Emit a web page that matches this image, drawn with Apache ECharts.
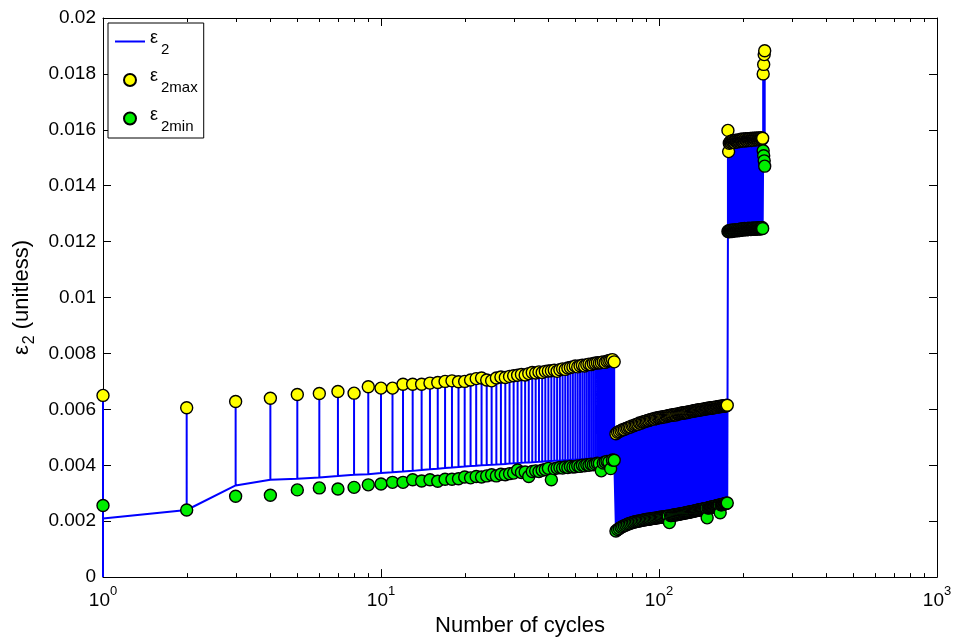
<!DOCTYPE html>
<html>
<head>
<meta charset="utf-8">
<script src="https://cdn.jsdelivr.net/npm/echarts@6/dist/echarts.min.js"></script>
<style>
html,body{margin:0;padding:0;background:#fff;}
#c{width:955px;height:642px;}
</style>
</head>
<body>
<div id="c"></div>
<script>
// ---- DATA (cycle number = array index + 1) ----
const eps2Start = 0;  // strain at the very start of the test
const eps2Max = [
 0.00650,0.00606,0.00628,0.00640,0.00653,0.00657,0.00664,0.00658,0.00681,0.00676,
 0.00676,0.00690,0.00690,0.00690,0.00694,0.00696,0.00700,0.00702,0.00699,0.00700,
 0.00705,0.00710,0.00712,0.00705,0.00702,0.00712,0.00716,0.00714,0.00718,0.00720,
 0.00722,0.00725,0.00723,0.00728,0.00732,0.00730,0.00734,0.00732,0.00736,0.00737,
 0.00738,0.00740,0.00736,0.00742,0.00745,0.00743,0.00748,0.00750,0.00752,0.00755,
 0.00752,0.00756,0.00758,0.00755,0.00760,0.00762,0.00760,0.00764,0.00765,0.00767,
 0.00766,0.00768,0.00770,0.00768,0.00772,0.00774,0.00776,0.00778,0.00770,0.00513,
 0.00518,0.00521,0.00524,0.00527,0.00528,0.00532,0.00533,0.00536,0.00537,0.00541,
 0.00541,0.00544,0.00546,0.00547,0.00551,0.00550,0.00554,0.00555,0.00557,0.00558,
 0.00560,0.00560,0.00563,0.00564,0.00566,0.00565,0.00568,0.00567,0.00570,0.00570,
 0.00572,0.00571,0.00573,0.00574,0.00573,0.00576,0.00575,0.00577,0.00578,0.00578,
 0.00580,0.00579,0.00581,0.00582,0.00580,0.00583,0.00584,0.00583,0.00585,0.00586,
 0.00586,0.00587,0.00588,0.00587,0.00589,0.00590,0.00589,0.00591,0.00592,0.00591,
 0.00593,0.00594,0.00593,0.00595,0.00596,0.00595,0.00597,0.00598,0.00597,0.00599,
 0.00598,0.00600,0.00599,0.00601,0.00601,0.00600,0.00602,0.00603,0.00602,0.00604,
 0.00603,0.00605,0.00604,0.00605,0.00606,0.00605,0.00607,0.00606,0.00608,0.00607,
 0.00608,0.00609,0.00608,0.00610,0.00609,0.00610,0.00611,0.00610,0.00612,0.00611,
 0.00612,0.00613,0.00612,0.00614,0.00613,0.00615,0.01598,0.01522,0.01552,0.01556,
 0.01558,0.01555,0.01560,0.01557,0.01562,0.01558,0.01555,0.01560,0.01563,0.01559,
 0.01556,0.01560,0.01564,0.01561,0.01558,0.01562,0.01566,0.01563,0.01560,0.01564,
 0.01567,0.01563,0.01560,0.01565,0.01568,0.01564,0.01561,0.01565,0.01568,0.01566,
 0.01562,0.01566,0.01569,0.01565,0.01562,0.01566,0.01570,0.01566,0.01563,0.01567,
 0.01570,0.01567,0.01564,0.01568,0.01571,0.01567,0.01564,0.01568,0.01571,0.01568,
 0.01565,0.01569,0.01572,0.01568,0.01566,0.01570,0.01800,0.01834,0.01869,0.01883
];
const eps2Min = [
 0.00256,0.00240,0.00289,0.00293,0.00312,0.00319,0.00315,0.00321,0.00330,0.00333,
 0.00339,0.00339,0.00348,0.00344,0.00348,0.00343,0.00350,0.00350,0.00352,0.00358,
 0.00355,0.00360,0.00358,0.00362,0.00366,0.00362,0.00368,0.00366,0.00370,0.00372,
 0.00383,0.00374,0.00376,0.00360,0.00378,0.00380,0.00378,0.00382,0.00385,0.00389,
 0.00348,0.00388,0.00390,0.00392,0.00390,0.00394,0.00392,0.00396,0.00394,0.00395,
 0.00398,0.00396,0.00400,0.00398,0.00402,0.00400,0.00404,0.00402,0.00405,0.00407,
 0.00406,0.00380,0.00408,0.00412,0.00414,0.00412,0.00388,0.00419,0.00418,0.00165,
 0.00170,0.00174,0.00178,0.00181,0.00184,0.00186,0.00189,0.00191,0.00193,0.00195,
 0.00196,0.00198,0.00199,0.00200,0.00201,0.00202,0.00203,0.00204,0.00205,0.00206,
 0.00207,0.00207,0.00208,0.00209,0.00210,0.00210,0.00211,0.00212,0.00212,0.00213,
 0.00214,0.00214,0.00215,0.00216,0.00216,0.00217,0.00218,0.00218,0.00195,0.00220,
 0.00220,0.00221,0.00222,0.00222,0.00223,0.00224,0.00224,0.00225,0.00226,0.00227,
 0.00227,0.00228,0.00229,0.00229,0.00230,0.00231,0.00231,0.00232,0.00233,0.00234,
 0.00234,0.00235,0.00236,0.00236,0.00237,0.00238,0.00238,0.00239,0.00240,0.00241,
 0.00241,0.00242,0.00243,0.00243,0.00244,0.00245,0.00245,0.00246,0.00212,0.00247,
 0.00248,0.00249,0.00249,0.00250,0.00251,0.00251,0.00252,0.00253,0.00253,0.00254,
 0.00255,0.00255,0.00256,0.00257,0.00257,0.00230,0.00259,0.00259,0.00260,0.00261,
 0.00261,0.00262,0.00263,0.00263,0.00264,0.00265,0.01236,0.01239,0.01235,0.01240,
 0.01237,0.01241,0.01236,0.01239,0.01242,0.01238,0.01240,0.01243,0.01239,0.01241,
 0.01243,0.01239,0.01242,0.01244,0.01240,0.01242,0.01245,0.01241,0.01243,0.01246,
 0.01242,0.01244,0.01247,0.01243,0.01245,0.01242,0.01244,0.01247,0.01243,0.01245,
 0.01248,0.01244,0.01246,0.01243,0.01245,0.01248,0.01244,0.01246,0.01249,0.01245,
 0.01247,0.01244,0.01246,0.01249,0.01245,0.01247,0.01250,0.01246,0.01248,0.01245,
 0.01247,0.01250,0.01246,0.01248,0.01251,0.01247,0.01525,0.01507,0.01489,0.01470
];
// strain level the signal returns to between peaks (line valleys)
const eps2Valley = [
 0.00210,0.00240,0.00328,0.00348,0.00352,0.00356,0.00362,0.00366,0.00368,0.00372,
 0.00375,0.00378,0.00380,0.00383,0.00386,0.00388,0.00390,0.00392,0.00394,0.00396,
 0.00397,0.00398,0.00400,0.00401,0.00402,0.00403,0.00404,0.00405,0.00406,0.00407,
 0.00408,0.00409,0.00410,0.00410,0.00411,0.00412,0.00413,0.00413,0.00414,0.00415,
 0.00415,0.00416,0.00416,0.00417,0.00418,0.00418,0.00419,0.00420,0.00420,0.00421,
 0.00421,0.00422,0.00422,0.00423,0.00423,0.00424,0.00424,0.00425,0.00425,0.00426,
 0.00426,0.00427,0.00427,0.00428,0.00428,0.00429,0.00429,0.00430,0.00430,0.00168,
 0.00172,0.00176,0.00180,0.00183,0.00186,0.00188,0.00191,0.00193,0.00195,0.00197,
 0.00198,0.00200,0.00201,0.00202,0.00203,0.00204,0.00205,0.00206,0.00207,0.00208,
 0.00209,0.00209,0.00210,0.00211,0.00212,0.00212,0.00213,0.00214,0.00214,0.00215,
 0.00216,0.00216,0.00217,0.00218,0.00218,0.00219,0.00220,0.00220,0.00221,0.00222,
 0.00222,0.00223,0.00224,0.00224,0.00225,0.00226,0.00226,0.00227,0.00228,0.00229,
 0.00229,0.00230,0.00231,0.00231,0.00232,0.00233,0.00233,0.00234,0.00235,0.00236,
 0.00236,0.00237,0.00238,0.00238,0.00239,0.00240,0.00240,0.00241,0.00242,0.00243,
 0.00243,0.00244,0.00245,0.00245,0.00246,0.00247,0.00247,0.00248,0.00248,0.00249,
 0.00250,0.00251,0.00251,0.00252,0.00253,0.00253,0.00254,0.00255,0.00255,0.00256,
 0.00257,0.00257,0.00258,0.00259,0.00259,0.00260,0.00261,0.00261,0.00262,0.00263,
 0.00263,0.00264,0.00265,0.00265,0.00266,0.00267,0.01240,0.01242,0.01240,0.01242,
 0.01241,0.01243,0.01241,0.01242,0.01244,0.01242,0.01243,0.01245,0.01243,0.01244,
 0.01245,0.01243,0.01244,0.01246,0.01244,0.01245,0.01247,0.01245,0.01246,0.01247,
 0.01245,0.01246,0.01248,0.01246,0.01247,0.01245,0.01246,0.01248,0.01246,0.01247,
 0.01249,0.01247,0.01248,0.01246,0.01247,0.01249,0.01247,0.01248,0.01250,0.01248,
 0.01249,0.01247,0.01248,0.01250,0.01248,0.01249,0.01251,0.01249,0.01250,0.01248,
 0.01249,0.01251,0.01249,0.01250,0.01252,0.01250,0.01530,0.01512,0.01494,0.01476
];
const xMinorTicks = [2,3,4,5,6,7,8,9,20,30,40,50,60,70,80,90,200,300,400,500,600,700,800,900];
const xRange = [1, 1000];
const yRange = [0, 0.02];
const yStep = 0.002;

// ---- build series data ----
const lineData = [[1, eps2Start]];
const maxData = [], minData = [];
eps2Max.forEach((m, i) => {
  const n = i + 1;
  lineData.push([n, eps2Valley[i]], [n, m], [n, eps2Valley[i]]);
  maxData.push([n, m]);
  minData.push([n, eps2Min[i]]);
});

const FONT = '"Liberation Sans", Arial, Helvetica, sans-serif';
const chart = echarts.init(document.getElementById('c'), null, {renderer: 'canvas'});

// rich-text helpers: every token top-aligned, vertical shift done with top padding
const tok = (size, padTop, padLeft) => ({fontSize: size, padding: [padTop, 0, 0, padLeft || 0], verticalAlign: 'top', fontFamily: FONT, color: '#000'});
const supRich = {b: tok(19, 6), p: tok(13, 0)};
const legendRich = {e: tok(18, 3), s: tok(15, 16, 3)};
const yNameRich = {e: tok(22, 0), s: tok(16, 11, 1), t: tok(22, 0)};
const legendNames = {e2: '{e|ε}{s|2}', e2max: '{e|ε}{s|2max}', e2min: '{e|ε}{s|2min}'};

const axisCommonLine = {show: true, onZero: false, lineStyle: {color: '#000', width: 1}};
const tickStyle = {show: true, inside: true, length: 8, lineStyle: {color: '#000', width: 1}};

const option = {
  animation: false,
  backgroundColor: '#fff',
  grid: {left: 103, right: 18, top: 18, bottom: 62, containLabel: false},
  legend: {
    data: [
      {name: 'e2', icon: 'path://M0,0L0,0M0,5L30,5L30,7L0,7ZM30,12L30,12'},
      {name: 'e2max'},
      {name: 'e2min'}
    ],
    orient: 'vertical', left: 108, top: 23,
    padding: [6, 6, 4, 7], itemGap: 10.5, itemWidth: 30, itemHeight: 12,
    borderColor: '#000', borderWidth: 1, backgroundColor: '#fff', borderRadius: 0,
    selectedMode: false,
    formatter: n => legendNames[n],
    textStyle: {color: '#000', fontFamily: FONT, rich: legendRich}
  },
  xAxis: [{
    type: 'log', logBase: 10, min: xRange[0], max: xRange[1], position: 'bottom',
    axisLine: axisCommonLine, axisTick: tickStyle, splitLine: {show: false},
    axisLabel: {margin: 8, formatter: v => '{b|10}{p|' + Math.round(Math.log10(v)) + '}', rich: supRich},
    name: 'Number of cycles', nameLocation: 'middle', nameGap: 33,
    nameTextStyle: {fontSize: 22, fontFamily: FONT, color: '#000'}
  }, {
    type: 'log', logBase: 10, min: xRange[0], max: xRange[1], position: 'top',
    axisLine: axisCommonLine, axisTick: tickStyle, splitLine: {show: false}, axisLabel: {show: false}
  }],
  yAxis: [{
    type: 'value', min: yRange[0], max: yRange[1], interval: yStep, position: 'left',
    axisLine: axisCommonLine, axisTick: tickStyle, splitLine: {show: false},
    axisLabel: {margin: 7, fontSize: 19, fontFamily: FONT, color: '#000',
      formatter: v => v === 0 ? '0' : String(+v.toFixed(3))},
    name: '{e|ε}{s|2}{t| (unitless)}', nameLocation: 'middle', nameGap: 45, nameRotate: 90,
    nameTextStyle: {fontFamily: FONT, color: '#000', rich: yNameRich}
  }, {
    type: 'value', min: yRange[0], max: yRange[1], interval: yStep, position: 'right',
    axisLine: axisCommonLine, axisTick: tickStyle, splitLine: {show: false}, axisLabel: {show: false}
  }],
  series: [{
    name: 'e2', type: 'line', data: lineData, xAxisIndex: 0, yAxisIndex: 0,
    symbol: 'none', showSymbol: false, sampling: false,
    lineStyle: {color: '#0000ff', width: 2}, itemStyle: {color: '#0000ff'}, z: 2
  }, {
    name: 'e2max', type: 'scatter', data: maxData, xAxisIndex: 0, yAxisIndex: 0,
    symbol: 'circle', symbolSize: 12,
    itemStyle: {color: '#ffff00', borderColor: '#000', borderWidth: 1.4, opacity: 1}, z: 3
  }, {
    name: 'e2min', type: 'scatter', data: minData, xAxisIndex: 0, yAxisIndex: 0,
    symbol: 'circle', symbolSize: 12,
    itemStyle: {color: '#00ee00', borderColor: '#000', borderWidth: 1.4, opacity: 1}, z: 4
  }, {
    type: 'custom', silent: true, xAxisIndex: 0, yAxisIndex: 0, z: 10, clip: false,
    data: xMinorTicks.map(v => [v, yRange[0]]),
    encode: {x: 0, y: 1},
    renderItem: (params, api) => {
      const v = api.value(0);
      const b = api.coord([v, yRange[0]]);
      const t = api.coord([v, yRange[1]]);
      const x = Math.round(b[0]) + 0.5;
      return {type: 'group', children: [
        {type: 'line', shape: {x1: x, y1: b[1], x2: x, y2: b[1] - 4}, style: {stroke: '#000', lineWidth: 1}},
        {type: 'line', shape: {x1: x, y1: t[1], x2: x, y2: t[1] + 4}, style: {stroke: '#000', lineWidth: 1}}
      ]};
    }
  }]
};
chart.setOption(option);
</script>
</body>
</html>
